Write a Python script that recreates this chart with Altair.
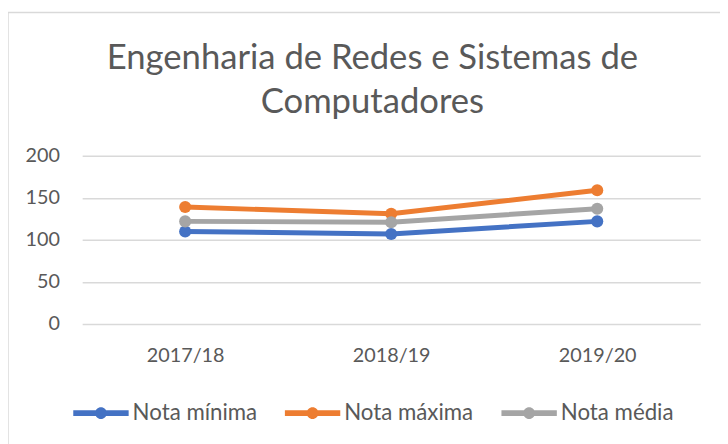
import altair as alt
import pandas as pd

years = ["2017/18", "2018/19", "2019/20"]
series_names = ["Nota mínima", "Nota máxima", "Nota média"]
nota_minima = [110, 107, 122]
nota_maxima = [139, 131, 159]
nota_media = [122, 121, 137]
colors = ["#4472C4", "#ED7D31", "#A5A5A5"]
y_ticks = [0, 50, 100, 150, 200]

rows = []
for name, vals in zip(series_names, [nota_minima, nota_maxima, nota_media]):
    for yr, v in zip(years, vals):
        rows.append({"Ano": yr, "Série": name, "Valor": v})
df = pd.DataFrame(rows)

FONT = "Lato"
TXT = "#595959"

legend_path = ("M-1,-0.107 L1,-0.107 L1,0.107 L-1,0.107 Z "
               "M-0.21,0 A0.21,0.21 0 1,1 0.21,0 A0.21,0.21 0 1,1 -0.21,0 Z")

color = alt.Color(
    "Série:N",
    scale=alt.Scale(domain=series_names, range=colors),
    sort=series_names,
    legend=alt.Legend(
        title=None,
        orient="none",
        direction="horizontal",
        legendX=-9,
        legendY=232,
        symbolType=legend_path,
        symbolSize=3136,
        symbolStrokeWidth=0,
        symbolOpacity=1,
        labelFont=FONT,
        labelFontSize=22.5,
        labelColor=TXT,
        labelOffset=4,
        columnPadding=28,
    ),
)

x = alt.X("Ano:N", sort=years, title=None,
          axis=alt.Axis(labelAngle=0, domain=False, ticks=False, labelPadding=22,
                        labelFont=FONT, labelFontSize=20, labelColor=TXT))
y = alt.Y("Valor:Q", title=None,
          scale=alt.Scale(domain=[0, 200], nice=False),
          axis=alt.Axis(values=y_ticks, domain=False, ticks=False, labelPadding=23,
                        labelFont=FONT, labelFontSize=20, labelColor=TXT,
                        grid=True, gridColor="#D9D9D9", gridWidth=1.5))

base = alt.Chart(df)
lines = base.mark_line(strokeWidth=5).encode(x=x, y=y, color=color)
points = base.mark_circle(size=150, opacity=1).encode(x=x, y=y, color=color)

border = alt.Chart(pd.DataFrame({"a": [0]})).mark_rect(
    fill=None, stroke="#D9D9D9", strokeWidth=1.5
).encode(x=alt.value(-75), y=alt.value(-145), x2=alt.value(700), y2=alt.value(300))

chart = alt.layer(border, lines, points).properties(
    width=625,
    height=170,
    autosize=alt.AutoSizeParams(type="none"),
    padding={"left": 75, "top": 147, "right": 20, "bottom": 119},
    title=alt.TitleParams(
        text=["Engenharia de Redes e Sistemas de", "Computadores"],
        font=FONT, fontSize=35, fontWeight="normal", color=TXT,
        anchor="middle", dx=-19, offset=-109, lineHeight=44,
    ),
).configure_view(stroke=None)

chart.save("out.html", embed_options={"renderer": "svg", "actions": False})
